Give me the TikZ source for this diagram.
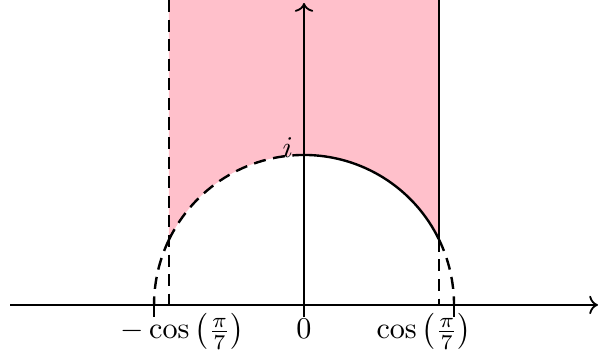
\documentclass[tikz,border=0pt]{standalone}
\usepackage{amsmath,amssymb}
\usepackage{tikz}
\usetikzlibrary{arrows.meta,positioning,calc}
\definecolor{regionpink}{RGB}{255,192,203}

\begin{document}
\begin{tikzpicture}[x=1.75cm,y=1.75cm,
  axis/.style={->,semithick},
  bound/.style={thick},
  dashbound/.style={thick,dash pattern=on 4pt off 2.5pt},
  ticks/.style={semithick}
]
\useasboundingbox (-2.027,-0.313) rectangle (1.98,2.033);
\coordinate (O) at (0,0);
\coordinate (i) at (0,1);
\coordinate (pc) at (0.90097,0.43388);
\coordinate (mc) at (-0.90097,0.43388);
\coordinate (ptop) at (0.90097,2.033);
\coordinate (mtop) at (-0.90097,2.033);
\coordinate (pbase) at (0.90097,0);
\coordinate (mbase) at (-0.90097,0);
\coordinate (xl) at (-1.96,0);
\coordinate (xr) at (1.96,0);
\coordinate (yb) at (0,-0.07);
\coordinate (yt) at (0,2.013);
% fundamental domain
\fill[regionpink] (mtop) -- (mc) arc[start angle=154.2857,end angle=25.7143,radius=1] -- (ptop) -- cycle;
% axes
\draw[axis] (xl) -- (xr);
\draw[axis] (yb) -- (yt);
\foreach \t in {-1,0,1}
  \draw[ticks] (\t,0.02) -- (\t,-0.08);
% boundary
\draw[dashbound] (mtop) -- (mbase);
\draw[bound] (ptop) -- (pc);
\draw[dashbound] (pc) -- (pbase);
\draw[dashbound] (mc) arc[start angle=154.2857,end angle=90,radius=1];
\draw[bound] (i) arc[start angle=90,end angle=25.7143,radius=1];
\draw[dashbound] (pc) arc[start angle=25.7143,end angle=0,radius=1];
\draw[dashbound] (mc) arc[start angle=154.2857,end angle=180,radius=1];
% labels
\node[anchor=base east,inner sep=0pt] (ilab) at ($(i)+(-0.07,-0.02)$) {$i$};
\node[anchor=base] (zlab) at (0,-0.227) {$0$};
\node[anchor=base] (plab) at (0.8,-0.227) {$\cos\left(\frac{\pi}{7}\right)$};
\node[anchor=base] (mlab) at (-0.81,-0.227) {$-\cos\left(\frac{\pi}{7}\right)$};
\end{tikzpicture}
\end{document}
